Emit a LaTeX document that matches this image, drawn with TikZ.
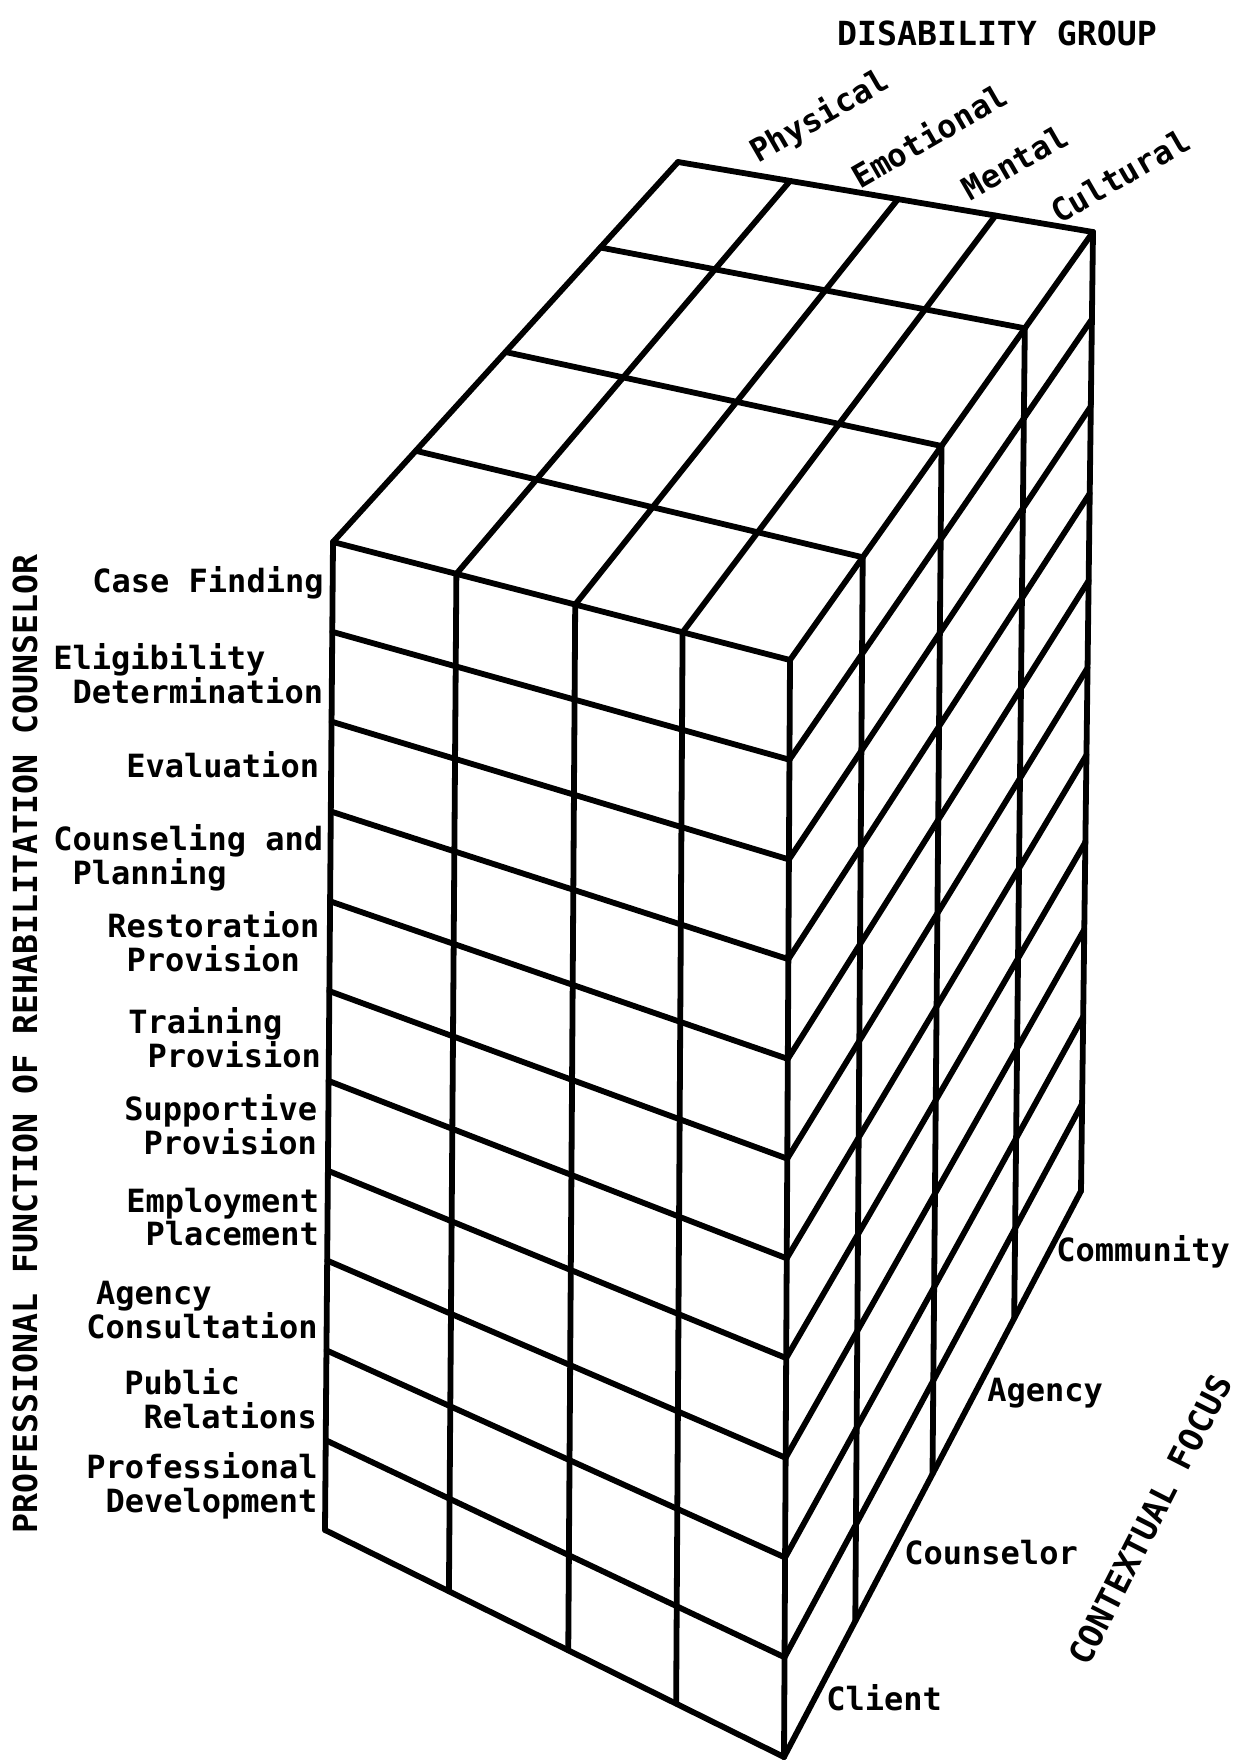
\documentclass[tikz,border=0pt]{standalone}
\usepackage{fontspec}
\setmonofont{DejaVu Sans Mono}
\usetikzlibrary{calc}

\tikzset{
	blockline/.style={line width=2.9pt, line cap=round, line join=round},
	funclabel/.style={font=\ttfamily\bfseries\fontsize{16}{16.8}\selectfont, align=left, anchor=west, inner sep=0pt},
	grouplabel/.style={font=\ttfamily\bfseries\fontsize{16}{18}\selectfont, inner sep=0pt, rotate=30},
	focuslabel/.style={font=\ttfamily\bfseries\fontsize{16}{18}\selectfont, anchor=west, inner sep=0pt},
	axistitle/.style={font=\ttfamily\bfseries\fontsize{16.6}{18}\selectfont, inner sep=0pt}
}
\newcommand{\onechar}{\hspace*{0.6em}}

\begin{document}
\begin{tikzpicture}[x=0.5pt, y=-0.5pt]
	\useasboundingbox (0, 0) rectangle (1239, 1762);

	% corners of the block
	\coordinate (FrontTL) at (333, 542);
	\coordinate (FrontTR) at (790, 660);
	\coordinate (FrontBL) at (325, 1530);
	\coordinate (FrontBR) at (784, 1757);
	\coordinate (BackTL) at (678, 162);
	\coordinate (BackTR) at (1093, 232);
	\coordinate (BackBR) at (1081, 1191);

	% front face
	\foreach \f in {0, 0.27, 0.53, 0.765, 1}
		\draw [blockline] ($(FrontTL)!\f!(FrontTR)$) -- ($(FrontBL)!\f!(FrontBR)$);
	\foreach \r in {0, ..., 11}
		\draw [blockline] ($(FrontTL)!\r/11!(FrontBL)$) -- ($(FrontTR)!\r/11!(FrontBR)$);
	% top face
	\foreach \f in {0, 0.27, 0.53, 0.765, 1}
		\draw [blockline] ($(FrontTL)!\f!(FrontTR)$) -- ($(BackTL)!\f!(BackTR)$);
	\foreach \d in {0.24, 0.5, 0.775, 1}
		\draw [blockline] ($(FrontTL)!\d!(BackTL)$) -- ($(FrontTR)!\d!(BackTR)$);
	% right face
	\foreach \d in {0.24, 0.5, 0.775, 1}
		\draw [blockline] ($(FrontTR)!\d!(BackTR)$) -- ($(FrontBR)!\d!(BackBR)$);
	\foreach \r in {1, ..., 11}
		\draw [blockline] ($(FrontTR)!\r/11!(FrontBR)$) -- ($(BackTR)!\r/11!(BackBR)$);

	% professional functions
	\node [funclabel] (CaseFinding)		at (92, 583)	{Case Finding};
	\node [funclabel] (Eligibility)		at (53, 674)	{Eligibility\\\onechar Determination};
	\node [funclabel] (Evaluation)		at (126, 765)	{Evaluation};
	\node [funclabel] (Counseling)		at (53, 858)	{Counseling and\\\onechar Planning};
	\node [funclabel] (Restoration)		at (107, 942)	{Restoration\\\onechar Provision};
	\node [funclabel] (Training)		at (128, 1038)	{Training\\\onechar Provision};
	\node [funclabel] (Supportive)		at (124, 1125)	{Supportive\\\onechar Provision};
	\node [funclabel] (Employment)		at (126, 1217)	{Employment\\\onechar Placement};
	\node [funclabel] (Consultation)	at (86, 1310)	{\hspace*{0.3em}Agency\\Consultation};
	\node [funclabel] (PublicRelations)	at (124, 1399)	{Public\\\onechar Relations};
	\node [funclabel] (Development)		at (86, 1486)	{Professional\\\onechar Development};

	% disability groups
	\node [grouplabel] (Physical)	at (820, 117)	{Physical};
	\node [grouplabel] (Emotional)	at (929, 135)	{Emotional};
	\node [grouplabel] (Mental)		at (1015, 162)	{Mental};
	\node [grouplabel] (Cultural)	at (1120, 176)	{Cultural};

	% contextual focus
	\node [focuslabel] (Community)	at (1056, 1252)	{Community};
	\node [focuslabel] (Agency)		at (987, 1393)	{Agency};
	\node [focuslabel] (Counselor)	at (904, 1553)	{Counselor};
	\node [focuslabel] (Client)		at (826, 1698)	{Client};

	% axis titles
	\node [axistitle, rotate=90]	(FunctionTitle)	at (25, 1044)	{PROFESSIONAL FUNCTION OF REHABILITATION COUNSELOR};
	\node [axistitle]				(GroupTitle)	at (997, 33)	{DISABILITY GROUP};
	\node [axistitle, rotate=63]	(FocusTitle)	at (1150, 1520)	{CONTEXTUAL FOCUS};
\end{tikzpicture}
\end{document}
